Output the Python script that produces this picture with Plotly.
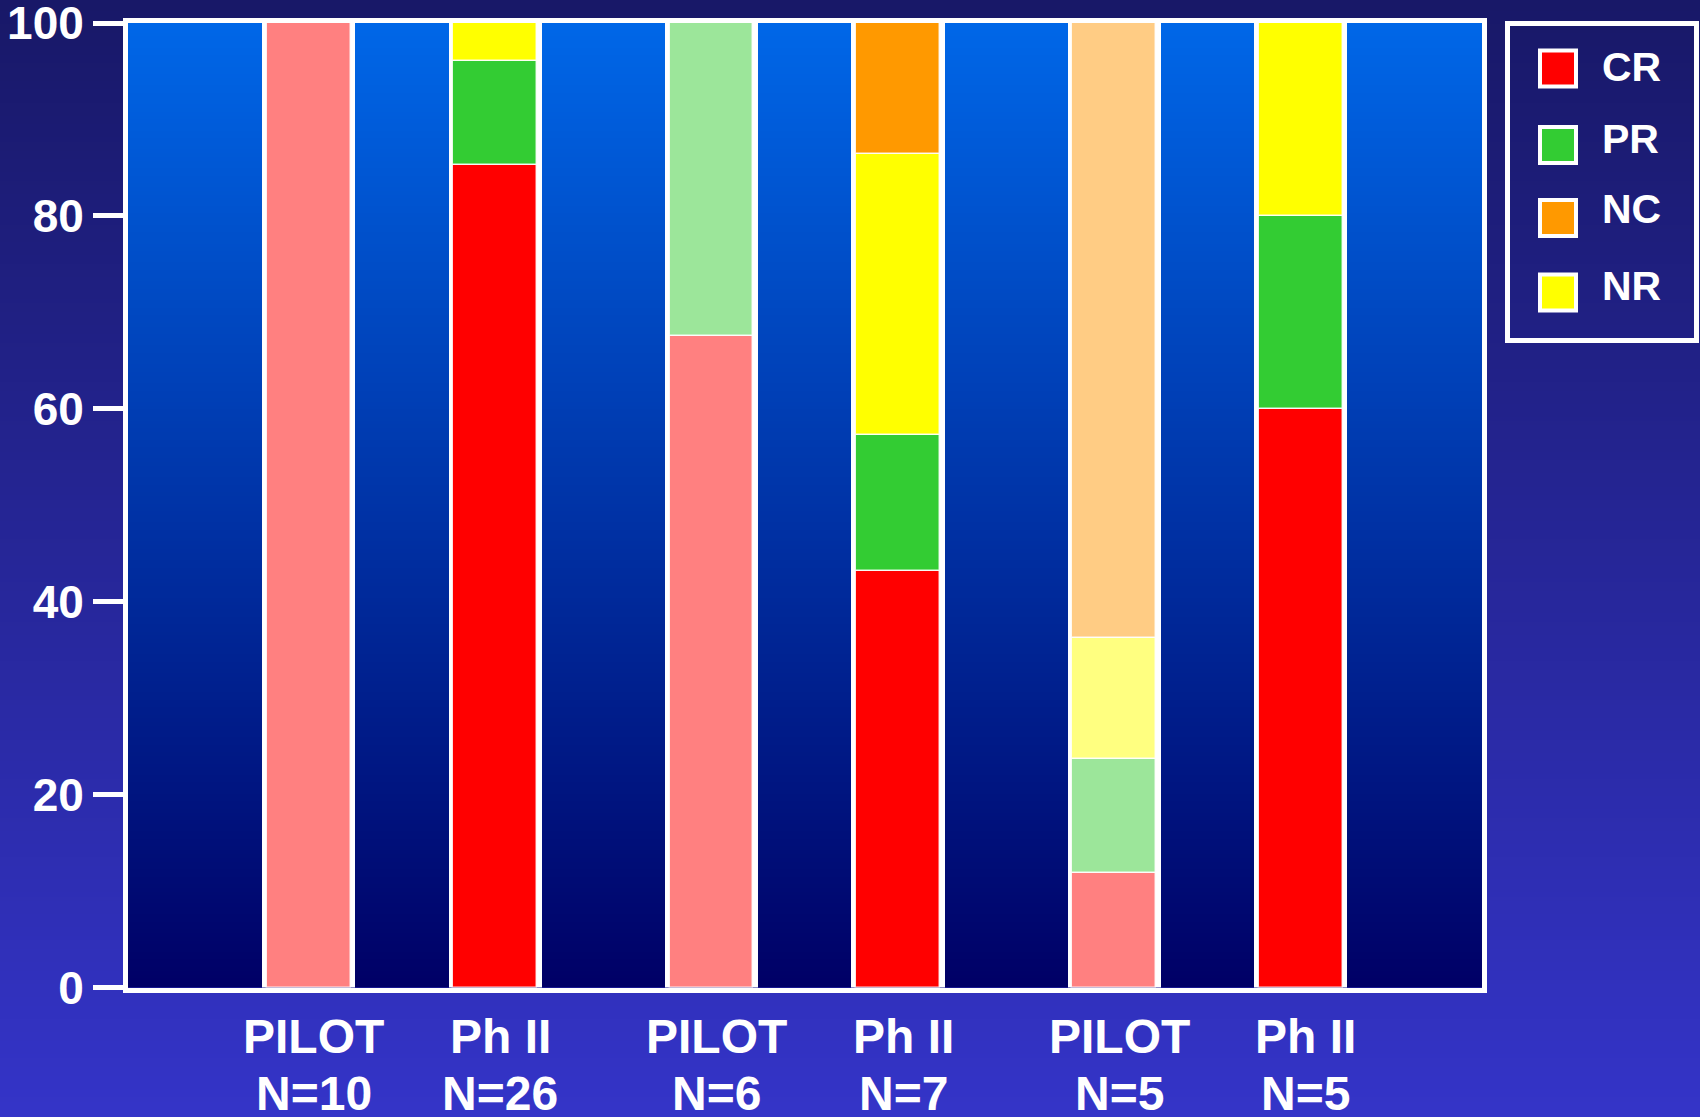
import base64
import struct
import zlib

import plotly.graph_objects as go

# ---- data -----------------------------------------------------------------
ARMS = ["PILOT", "Ph II", "PILOT", "Ph II", "PILOT", "Ph II"]
N_PATIENTS = [10, 26, 6, 7, 5, 5]

# response rates (%) per arm
CR = [100.0, 85.3, 67.5, 43.2, 11.9, 60.0]
PR = [0.0, 10.8, 32.5, 14.1, 11.8, 20.0]
NR = [0.0, 3.9, 0.0, 29.1, 12.5, 20.0]
NC = [0.0, 0.0, 0.0, 13.6, 63.8, 0.0]

LEGEND_ORDER = ["CR", "PR", "NC", "NR"]
STACK_ORDER = ["CR", "PR", "NR", "NC"]
SERIES = {"CR": CR, "PR": PR, "NR": NR, "NC": NC}

Y_TICKS = [0, 20, 40, 60, 80, 100]

# ---- styling --------------------------------------------------------------
W, H = 1700, 1117
FONT = "Liberation Sans, Arial, Helvetica, sans-serif"
FULL = {"CR": "#FF0000", "PR": "#33CC33", "NC": "#FF9900", "NR": "#FFFF00"}
PALE = {"CR": "#FF8080", "PR": "#9CE69A", "NC": "#FFCC84", "NR": "#FFFF80"}

GROUP_STEP = 2.16
X_RANGE = [-0.969, 6.293]
SEG_WIDTH = 0.45
FRAME_WIDTH = 0.50
LABEL_SHIFT = 5          # px nudge of category labels to the right
LABEL_FONT = dict(family=FONT, size=48, color="white", weight="bold")


def px(x):
    return x / W


def py(y):
    return 1 - y / H


def gradient_uri(top, bottom, rows=256, cols=4):
    """Vertical linear gradient as a PNG data URI."""
    raw = b""
    for i in range(rows):
        t = i / (rows - 1)
        rgb = bytes(round(a + (b - a) * t) for a, b in zip(top, bottom))
        raw += b"\x00" + rgb * cols

    def chunk(tag, data):
        return (struct.pack(">I", len(data)) + tag + data
                + struct.pack(">I", zlib.crc32(tag + data) & 0xFFFFFFFF))

    png = (b"\x89PNG\r\n\x1a\n"
           + chunk(b"IHDR", struct.pack(">IIBBBBB", cols, rows, 8, 2, 0, 0, 0))
           + chunk(b"IDAT", zlib.compress(raw, 9))
           + chunk(b"IEND", b""))
    return "data:image/png;base64," + base64.b64encode(png).decode()


# bar positions: three pairs (pilot / phase II)
positions = [g * GROUP_STEP + s for g in range(3) for s in range(2)]
is_pilot = [a == "PILOT" for a in ARMS]
totals = [sum(SERIES[k][i] for k in STACK_ORDER) for i in range(len(ARMS))]

fig = go.Figure()

# white backing behind each stacked column
fig.add_trace(go.Bar(
    x=positions, y=totals, base=[0] * len(totals), width=FRAME_WIDTH,
    marker=dict(color="white", line=dict(width=0)),
    showlegend=False, hoverinfo="skip",
))

base = [0.0] * len(ARMS)
for key in STACK_ORDER:
    vals = SERIES[key]
    colors = [PALE[key] if p else FULL[key] for p in is_pilot]
    fig.add_trace(go.Bar(
        x=positions, y=vals, base=list(base), width=SEG_WIDTH, name=key,
        marker=dict(color=colors, line=dict(color="rgba(255,255,255,0.85)", width=1.5)),
        showlegend=False,
    ))
    base = [b + v for b, v in zip(base, vals)]

# plot area placement (pixels)
PLOT_L, PLOT_R, PLOT_T, PLOT_B = 128, 1482.3, 23, 987.5

images = [
    dict(source=gradient_uri((24, 24, 104), (52, 52, 200)),
         xref="paper", yref="paper", x=0, y=1, sizex=1, sizey=1,
         sizing="stretch", layer="below", xanchor="left", yanchor="top"),
    dict(source=gradient_uri((0, 103, 232), (0, 0, 102)),
         xref="paper", yref="paper", x=px(PLOT_L), y=py(PLOT_T),
         sizex=px(PLOT_R) - px(PLOT_L), sizey=py(PLOT_T) - py(PLOT_B),
         sizing="stretch", layer="below", xanchor="left", yanchor="top"),
]

# legend drawn as a framed box of swatches
shapes = [dict(type="rect", xref="paper", yref="paper",
               x0=px(1507.5), x1=px(1696.5), y0=py(23.5), y1=py(340.5),
               line=dict(color="white", width=5), fillcolor="rgba(0,0,0,0)")]
annotations = []
sw_centers = [68.5, 145, 218, 292.5]
txt_centers = [66.7, 139, 209, 285.5]
for key, sc, tc in zip(LEGEND_ORDER, sw_centers, txt_centers):
    shapes.append(dict(type="rect", xref="paper", yref="paper",
                       x0=px(1540), x1=px(1576), y0=py(sc + 18), y1=py(sc - 18),
                       line=dict(color="white", width=4), fillcolor=FULL[key]))
    annotations.append(dict(text=key, xref="paper", yref="paper",
                            x=px(1600), y=py(tc), xanchor="left", yanchor="middle",
                            showarrow=False,
                            font=dict(family=FONT, size=41, color="white", weight="bold")))

# two-line category labels under each column
for x, arm, n in zip(positions, ARMS, N_PATIENTS):
    for text, yc in ((arm, 1036), (f"N={n}", 1093)):
        annotations.append(dict(text=text, xref="x", yref="paper",
                                x=x, y=py(yc), xanchor="center", yanchor="middle",
                                xshift=LABEL_SHIFT, showarrow=False, font=LABEL_FONT))

fig.update_layout(
    template="none",
    width=W, height=H,
    margin=dict(l=0, r=0, t=0, b=0, pad=0, autoexpand=False),
    paper_bgcolor="#1a1a6e",
    plot_bgcolor="rgba(0,0,0,0)",
    barmode="overlay",
    bargap=0,
    showlegend=False,
    images=images,
    shapes=shapes,
    annotations=annotations,
    xaxis=dict(
        domain=[px(PLOT_L), px(PLOT_R)], range=X_RANGE,
        showticklabels=False, ticks="", showgrid=False, zeroline=False,
        automargin=False,
        showline=True, linewidth=5, linecolor="white", mirror=True,
    ),
    yaxis=dict(
        domain=[py(PLOT_B), py(PLOT_T)], range=[0, 100],
        tickvals=Y_TICKS, ticks="outside", ticklen=30, tickwidth=5, tickcolor="white",
        showgrid=False, zeroline=False, automargin=False,
        showline=True, linewidth=5, linecolor="white", mirror=True,
        tickfont=dict(family=FONT, size=46, color="white", weight="bold"),
        ticklabeloverflow="allow",
    ),
)

fig.write_html("out.html")
